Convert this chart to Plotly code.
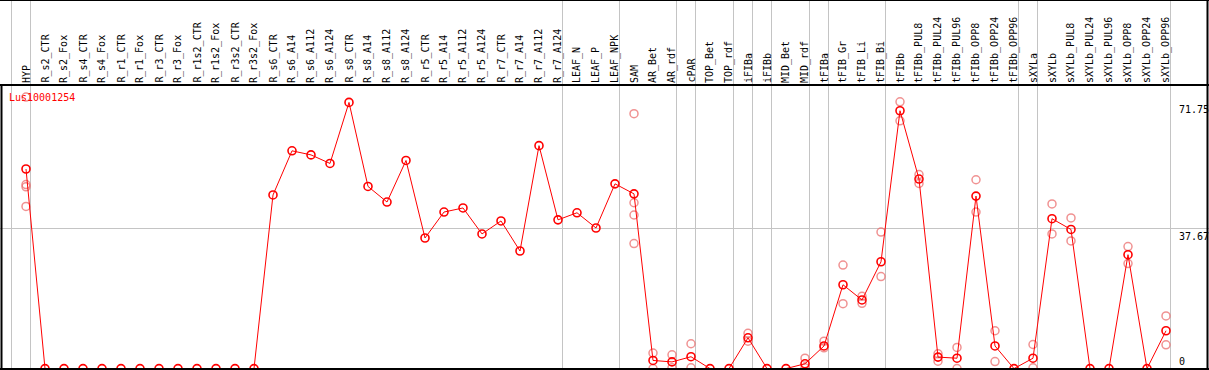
import plotly.graph_objects as go

categories = ["HYP", "R_s2_CTR", "R_s2_Fox", "R_s4_CTR", "R_s4_Fox", "R_r1_CTR", "R_r1_Fox",
              "R_r3_CTR", "R_r3_Fox", "R_r1s2_CTR", "R_r1s2_Fox", "R_r3s2_CTR", "R_r3s2_Fox",
              "R_s6_CTR", "R_s6_A14", "R_s6_A112", "R_s6_A124", "R_s8_CTR", "R_s8_A14",
              "R_s8_A112", "R_s8_A124", "R_r5_CTR", "R_r5_A14", "R_r5_A112", "R_r5_A124",
              "R_r7_CTR", "R_r7_A14", "R_r7_A112", "R_r7_A124", "LEAF_N", "LEAF_P", "LEAF_NPK",
              "SAM", "AR_Bet", "AR_rdf", "cPAR", "TOP_Bet", "TOP_rdf", "iFIBa", "iFIBb",
              "MID_Bet", "MID_rdf", "tFIBa", "tFIB_Gr", "tFIB_Li", "tFIB_Bi", "tFIBb",
              "tFIBb_PUL8", "tFIBb_PUL24", "tFIBb_PUL96", "tFIBb_OPP8", "tFIBb_OPP24",
              "tFIBb_OPP96", "sXYLa", "sXYLb", "sXYLb_PUL8", "sXYLb_PUL24", "sXYLb_PUL96",
              "sXYLb_OPP8", "sXYLb_OPP24", "sXYLb_OPP96"]

mean_values = [53.8, 0, 0, 0, 0, 0, 0, 0, 0, 0, 0, 0, 0,
               46.8, 58.7, 57.6, 55.3, 71.75, 49.1, 44.9, 56.1, 35.2, 42.2, 43.3, 36.3,
               39.8, 31.7, 60.1, 40.1, 42.0, 37.9, 49.8,
               47.1, 2.2, 1.8, 3.2, 0, 0, 8.3, 0, 0, 1.3, 6.1, 22.6, 18.5, 28.8, 69.5,
               51.1, 3.1, 2.8, 46.5, 6.1, 0, 2.8, 40.4, 37.5, 0, 0, 30.7, 0, 10.2]

# replicate values (None where no separate replicate is visible)
rep_a = [73.2, None, None, None, None, None, None, None, None, None, None, None, None,
         None, None, None, None, None, None, None, None, None, None, None, None,
         None, None, None, None, None, None, None,
         68.7, 4.2, 3.7, 6.7, None, None, 9.5, None, None, 2.8, 7.4, 27.9, 19.5, 36.8, 71.9,
         52.3, 4.0, 5.7, 50.9, 10.2, None, 6.5, 44.4, 40.6, None, None, 32.9, None, 14.2]
rep_b = [49.6, None, None, None, None, None, None, None, None, None, None, None, None,
         None, None, None, None, None, None, None, None, None, None, None, None,
         None, None, None, None, None, None, None,
         44.7, 0, 0.2, 0.2, None, None, 7.4, None, None, 0.2, 5.6, 17.5, 17.6, 24.8, 66.8,
         49.9, 2.0, 0, 42.2, 1.9, None, 0.2, 36.3, 34.4, None, None, 28.3, None, 6.4]
rep_c = [43.7, None, None, None, None, None, None, None, None, None, None, None, None,
         None, None, None, None, None, None, None, None, None, None, None, None,
         None, None, None, None, None, None, None,
         33.7, None, None, None, None, None, None, None, None, None, None, None, None, None, None,
         None, None, None, None, None, None, None, None, None, None, None, None, None, None]
rep_d = [49.0] + [None] * 31 + [41.4] + [None] * 28

group_ends = [-1, 0, 28, 31, 34, 35, 37, 38, 39, 41, 42, 45, 52, 53, 60]
y_labels = [71.75, 37.67, 0]
gene_name = "Lus10001254"

idx = list(range(len(categories)))

# pixel mapping helpers (layout only)
W, H = 1209, 370
x0_px, step_px = 26, 19
y0_px, ystep_px = 368.6, 3.71
x_range = [-x0_px / step_px, (W - x0_px) / step_px]
y_range = [(y0_px - H) / ystep_px, y0_px / ystep_px]
def ypx(p):
    return (y0_px - p) / ystep_px

MONO = "DejaVu Sans Mono"
fig = go.Figure()

faint = dict(symbol="circle-open", size=8, color="rgba(235,110,110,0.75)", line=dict(width=1.5))
for rep in (rep_a, rep_b, rep_c, rep_d):
    xs = [i for i, v in zip(idx, rep) if v is not None]
    ys = [v for v in rep if v is not None]
    fig.add_trace(go.Scatter(x=xs, y=ys, mode="markers", marker=faint,
                             hoverinfo="skip", showlegend=False, cliponaxis=False))

fig.add_trace(go.Scatter(x=idx, y=mean_values, mode="lines+markers",
                         line=dict(color="#ff0000", width=1),
                         marker=dict(symbol="circle-open", size=8, color="#ff0000",
                                     line=dict(width=1.6)),
                         showlegend=False, cliponaxis=True))

annotations = []
for i, name in enumerate(categories):
    annotations.append(dict(x=i, y=ypx(84), xref="x", yref="y", text=name, textangle=-90,
                            showarrow=False, xanchor="center", yanchor="bottom",
                            font=dict(family=MONO, size=10, color="black"), borderpad=0))
for v in y_labels:
    annotations.append(dict(x=1177 / W, y=v, xref="paper", yref="y", text=f"{v:g}" if v else "0",
                            showarrow=False, xanchor="left",
                            yanchor="top" if v > 0 else "bottom",
                            font=dict(family=MONO, size=10, color="black"), borderpad=1))
annotations.append(dict(x=8 / W, y=ypx(97), xref="paper", yref="y", text=gene_name,
                        showarrow=False, xanchor="left", yanchor="middle",
                        font=dict(family=MONO, size=10, color="#ff0000"), borderpad=0))

black = dict(color="black", width=2)
shapes = [
    dict(type="line", xref="paper", yref="paper", x0=0, x1=1, y0=1, y1=1, line=black),
    dict(type="line", xref="paper", yref="y", x0=0, x1=1, y0=ypx(85), y1=ypx(85), line=black),
    dict(type="line", xref="paper", yref="y", x0=0, x1=1, y0=ypx(369), y1=ypx(369), line=black),
    dict(type="line", xref="paper", yref="y", x0=1.5 / W, x1=1.5 / W, y0=ypx(85), y1=ypx(370), line=black),
    dict(type="line", xref="paper", yref="paper", x0=1207.5 / W, x1=1207.5 / W, y0=0, y1=1, line=black),
]

fig.update_layout(
    width=W, height=H,
    margin=dict(l=0, r=0, t=0, b=0),
    paper_bgcolor="white", plot_bgcolor="white",
    xaxis=dict(range=x_range, tickvals=[g + 0.23 for g in group_ends], showticklabels=False,
               showgrid=True, gridcolor="#c4c4c4", gridwidth=1, zeroline=False, ticks="",
               fixedrange=True),
    yaxis=dict(range=y_range, tickvals=[37.67], showticklabels=False, showgrid=True,
               gridcolor="#c4c4c4", gridwidth=1, zeroline=False, ticks="", fixedrange=True),
    annotations=annotations, shapes=shapes,
)

fig.write_html("out.html", config={"displayModeBar": False},
               post_script="document.body.style.margin='0';document.body.style.overflow='hidden';")
